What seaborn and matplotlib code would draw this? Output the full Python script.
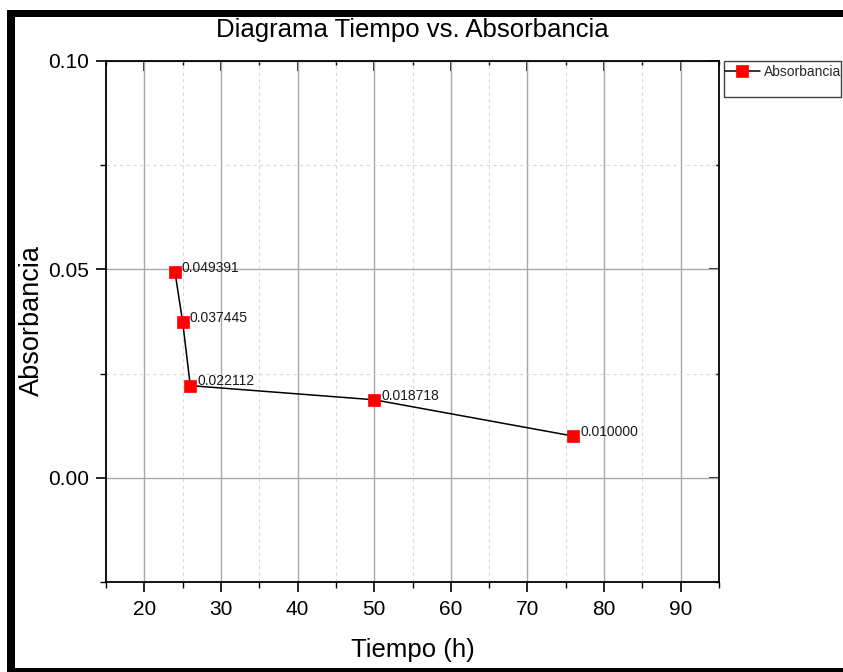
import matplotlib
matplotlib.use("Agg")
import matplotlib.pyplot as plt
from matplotlib.patches import Rectangle
from matplotlib.ticker import MultipleLocator, FormatStrFormatter
import seaborn as sns
import pandas as pd

# Measured data
tiempo = [24, 25, 26, 50, 76]
absorbancia = [0.049391, 0.037445, 0.022112, 0.018718, 0.010000]
etiquetas = ["0.049391", "0.037445", "0.022112", "0.018718", "0.010000"]

df = pd.DataFrame({"Tiempo (h)": tiempo, "Absorbancia": absorbancia})

sns.set_theme(style="white")
plt.rcParams["font.family"] = ["Liberation Sans", "DejaVu Sans"]

W, H = 843, 672
fig = plt.figure(figsize=(W / 100, H / 100), dpi=100)
fig.patch.set_facecolor("white")

def px(x0, y0, x1, y1):
    """Figure-fraction rectangle from pixel edges (top-left origin)."""
    return [x0 / W, 1 - y1 / H, (x1 - x0) / W, (y1 - y0) / H]

ax = fig.add_axes(px(106, 61, 719, 582))

# grid first so data sits on top
ax.set_xlim(15, 95)
ax.set_ylim(-0.025, 0.10)
ax.xaxis.set_major_locator(MultipleLocator(10))
ax.xaxis.set_minor_locator(MultipleLocator(5))
ax.yaxis.set_major_locator(MultipleLocator(0.05))
ax.yaxis.set_minor_locator(MultipleLocator(0.025))
ax.yaxis.set_major_formatter(FormatStrFormatter("%.2f"))
ax.grid(which="major", color="#a8a8a8", linewidth=1.0, linestyle="-")
ax.grid(which="minor", color="#d8d8d8", linewidth=0.8, linestyle=(0, (3, 3)))
ax.set_axisbelow(True)

sns.lineplot(data=df, x="Tiempo (h)", y="Absorbancia", ax=ax,
             color="black", linewidth=1.1, marker="s", markersize=8,
             markerfacecolor="#ff0000", markeredgecolor="#ff0000",
             markeredgewidth=0.5, label="Absorbancia", legend=False)

for x, y, t in zip(tiempo, absorbancia, etiquetas):
    ax.annotate(t, (x, y), xytext=(5, 3), textcoords="offset points",
                fontsize=10, color="#1a1a1a", va="center", ha="left")

# spines
for s in ax.spines.values():
    s.set_color("black")
    s.set_linewidth(1.3)

# left / bottom ticks point outward
ax.tick_params(axis="both", which="major", direction="out", length=7,
               width=1.2, color="black", labelsize=15, labelcolor="black")
ax.tick_params(axis="x", which="major", pad=6)
ax.tick_params(axis="y", which="major", pad=5)
ax.tick_params(axis="both", which="minor", direction="out", length=4,
               width=1.0, color="black")
ax.tick_params(bottom=True, left=True, which="both")

# top / right ticks point inward
top = ax.secondary_xaxis("top")
top.xaxis.set_major_locator(MultipleLocator(10))
top.xaxis.set_minor_locator(MultipleLocator(5))
top.tick_params(which="major", direction="in", length=7, width=1.2,
                color="black", labeltop=False)
top.tick_params(which="minor", direction="in", length=3, width=1.0,
                color="black")
top.spines["top"].set_visible(False)
right = ax.secondary_yaxis("right")
right.yaxis.set_major_locator(MultipleLocator(0.05))
right.yaxis.set_minor_locator(MultipleLocator(0.025))
right.tick_params(which="major", direction="in", length=7, width=1.2,
                  color="black", labelright=False)
right.tick_params(which="minor", direction="in", length=3, width=1.0,
                  color="black")
right.spines["right"].set_visible(False)

ax.set_xlabel("")
ax.set_ylabel("")
fig.text(413 / W, 1 - 650 / H, "Tiempo (h)", fontsize=18.5, ha="center",
         va="center", color="black")
fig.text(32 / W, 1 - 320 / H, "Absorbancia", fontsize=19.5, ha="center",
         va="center", rotation=90, color="black")
fig.text(412 / W, 1 - 30 / H, "Diagrama Tiempo vs. Absorbancia",
         fontsize=18.5, ha="center", va="center", color="black")

# legend with a separate frame box
x0, y0, w, h = px(724, 61, 841, 97)
fig.patches.append(Rectangle((x0, y0), w, h, transform=fig.transFigure,
                             facecolor="white", edgecolor="#404040",
                             linewidth=1.0, zorder=1))
handles, labels = ax.get_legend_handles_labels()
leg = fig.legend(handles, labels, loc="center left",
                 bbox_to_anchor=(725 / W, 1 - 72 / H), frameon=False,
                 fontsize=10, handlelength=2.5, handletextpad=0.3,
                 borderpad=0, borderaxespad=0)

# page border
for rect in (px(7, 10, 15, 672), px(7, 10, 843, 17), px(7, 668, 843, 672)):
    fig.patches.append(Rectangle(rect[:2], rect[2], rect[3],
                                 transform=fig.transFigure,
                                 facecolor="black", edgecolor="none"))

fig.savefig("out.png", dpi=100)
